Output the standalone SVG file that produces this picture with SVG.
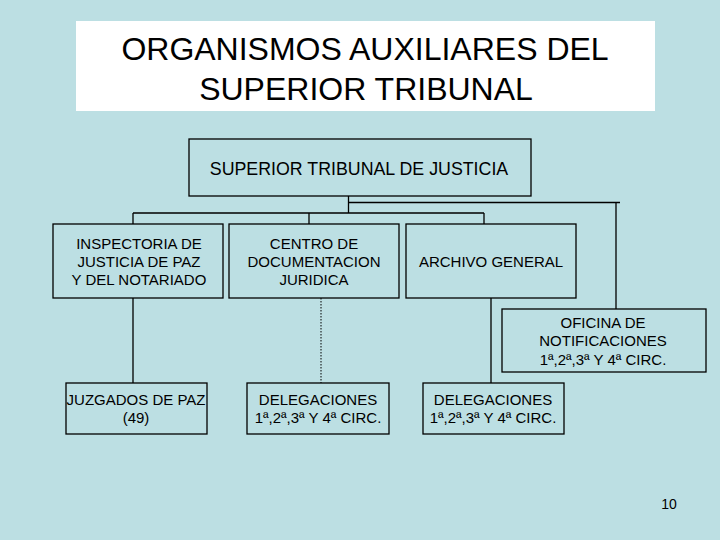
<svg xmlns="http://www.w3.org/2000/svg" width="720" height="540" viewBox="0 0 720 540">
<style>
text{font-family:"Liberation Sans",Arial,sans-serif;fill:#000;text-anchor:middle}
.box{fill:none;stroke:#000;stroke-width:1.3}
.ln{fill:none;stroke:#000;stroke-width:1.3}
.t{font-size:15px}
</style>
<rect width="720" height="540" fill="#BCDFE3"/>
<g id="title">
<rect x="76" y="21" width="579" height="90" fill="#fff"/>
<text x="365" y="60" font-size="32">ORGANISMOS AUXILIARES DEL</text>
<text x="366" y="100" font-size="32">SUPERIOR TRIBUNAL</text>
</g>
<g id="connectors">
<path class="ln" d="M348.5 196V213M348.5 202.5H620M616 202.5V309M133 213H484M133 213V224M309 213V224M484 213V224M133 298V383M491 298V383"/>
<path d="M321 298V383" stroke="#000" stroke-width="1" stroke-dasharray="1.5,1.5"/>
</g>
<g id="n-stj">
<rect class="box" x="189" y="139" width="342" height="57"/>
<text x="359" y="175" font-size="17.8">SUPERIOR TRIBUNAL DE JUSTICIA</text>
</g>
<g id="n-inspectoria">
<rect class="box" x="53" y="224" width="170" height="74"/>
<text class="t" x="139" y="249">INSPECTORIA DE</text>
<text class="t" x="139" y="267">JUSTICIA DE PAZ</text>
<text class="t" x="139" y="285">Y DEL NOTARIADO</text>
</g>
<g id="n-centro">
<rect class="box" x="229" y="224" width="170" height="74"/>
<text class="t" x="314" y="249">CENTRO DE</text>
<text class="t" x="314" y="267">DOCUMENTACION</text>
<text class="t" x="314" y="285">JURIDICA</text>
</g>
<g id="n-archivo">
<rect class="box" x="406" y="224" width="170" height="74"/>
<text class="t" x="491" y="267">ARCHIVO GENERAL</text>
</g>
<g id="n-oficina">
<rect class="box" x="502" y="309" width="204" height="63"/>
<text class="t" x="603" y="328">OFICINA DE</text>
<text class="t" x="603" y="346">NOTIFICACIONES</text>
<text class="t" x="603" y="365">1ª,2ª,3ª Y 4ª CIRC.</text>
</g>
<g id="n-juzgados">
<rect class="box" x="66" y="383" width="141" height="51"/>
<text class="t" x="136" y="405">JUZGADOS DE PAZ</text>
<text class="t" x="136" y="423">(49)</text>
</g>
<g id="n-deleg1">
<rect class="box" x="247" y="383" width="142" height="51"/>
<text class="t" x="318" y="405">DELEGACIONES</text>
<text class="t" x="318" y="423">1ª,2ª,3ª Y 4ª CIRC.</text>
</g>
<g id="n-deleg2">
<rect class="box" x="423" y="383" width="141" height="51"/>
<text class="t" x="493" y="405">DELEGACIONES</text>
<text class="t" x="493" y="423">1ª,2ª,3ª Y 4ª CIRC.</text>
</g>
<text x="669" y="509" font-size="14">10</text>
</svg>
